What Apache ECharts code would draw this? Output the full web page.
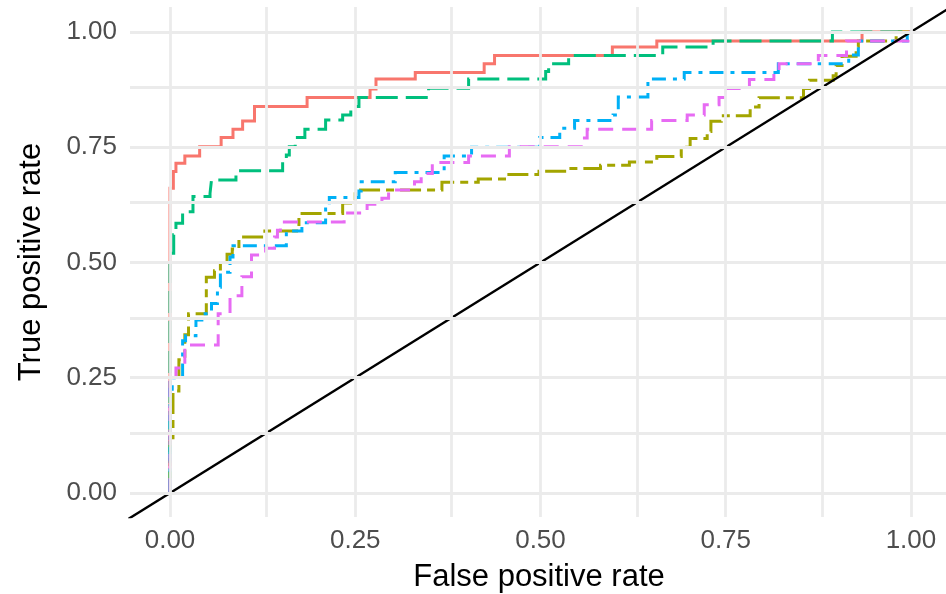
<!DOCTYPE html>
<html>
<head>
<meta charset="utf-8">
<script src="https://cdn.jsdelivr.net/npm/echarts@6/dist/echarts.min.js"></script>
<style>
  html, body { margin: 0; padding: 0; background: #fff; }
  #chart { width: 946px; height: 594px; }
</style>
</head>
<body>
<div id="chart"></div>
<script>
// ---- Data: [false positive rate, true positive rate]
const redRoc = [[0,0],[0,0.661],[0.0045,0.661],[0.0045,0.697],[0.008,0.697],[0.008,0.715],[0.020,0.715],[0.020,0.731],[0.040,0.731],[0.040,0.751],[0.069,0.751],[0.069,0.771],[0.085,0.771],[0.085,0.789],[0.098,0.789],[0.098,0.807],[0.114,0.807],[0.114,0.838],[0.185,0.838],[0.185,0.858],[0.270,0.858],[0.270,0.876],[0.278,0.876],[0.278,0.898],[0.331,0.898],[0.331,0.912],[0.424,0.912],[0.424,0.931],[0.438,0.931],[0.438,0.949],[0.597,0.949],[0.597,0.967],[0.657,0.967],[0.657,0.980],[0.934,0.980],[0.934,1],[1,1]];
const oliveRoc = [[0,0],[0,0.12],[0.004,0.12],[0.004,0.221],[0.012,0.221],[0.012,0.289],[0.020,0.289],[0.020,0.343],[0.025,0.343],[0.025,0.389],[0.049,0.389],[0.049,0.468],[0.060,0.468],[0.060,0.482],[0.068,0.482],[0.068,0.500],[0.077,0.500],[0.077,0.518],[0.084,0.518],[0.084,0.529],[0.093,0.529],[0.093,0.555],[0.128,0.555],[0.128,0.568],[0.174,0.568],[0.174,0.606],[0.233,0.606],[0.233,0.629],[0.250,0.629],[0.250,0.657],[0.367,0.657],[0.367,0.674],[0.416,0.674],[0.416,0.681],[0.455,0.681],[0.455,0.691],[0.498,0.691],[0.498,0.698],[0.536,0.698],[0.536,0.704],[0.581,0.704],[0.581,0.711],[0.620,0.711],[0.620,0.718],[0.657,0.718],[0.657,0.730],[0.690,0.730],[0.690,0.750],[0.702,0.750],[0.702,0.769],[0.725,0.769],[0.725,0.784],[0.730,0.784],[0.730,0.806],[0.744,0.806],[0.744,0.818],[0.783,0.818],[0.783,0.837],[0.795,0.837],[0.795,0.857],[0.855,0.857],[0.855,0.877],[0.863,0.877],[0.863,0.895],[0.895,0.895],[0.895,0.905],[0.899,0.905],[0.899,0.927],[0.907,0.927],[0.907,0.947],[0.926,0.947],[0.926,0.968],[0.929,0.968],[0.929,0.980],[0.980,0.980],[0.980,1],[1,1]];
const greenRoc = [[0,0],[0,0.52],[0.005,0.52],[0.005,0.56],[0.008,0.56],[0.008,0.585],[0.017,0.585],[0.017,0.61],[0.031,0.61],[0.031,0.643],[0.054,0.643],[0.054,0.65],[0.056,0.65],[0.056,0.679],[0.089,0.679],[0.089,0.699],[0.152,0.699],[0.152,0.722],[0.157,0.722],[0.157,0.733],[0.161,0.733],[0.161,0.751],[0.169,0.751],[0.169,0.771],[0.182,0.771],[0.182,0.789],[0.210,0.789],[0.210,0.809],[0.233,0.809],[0.233,0.820],[0.244,0.820],[0.244,0.838],[0.255,0.838],[0.255,0.858],[0.349,0.858],[0.349,0.878],[0.403,0.878],[0.403,0.898],[0.507,0.898],[0.507,0.914],[0.511,0.914],[0.511,0.931],[0.538,0.931],[0.538,0.949],[0.665,0.949],[0.665,0.967],[0.733,0.967],[0.733,0.980],[0.894,0.980],[0.894,1],[1,1]];
const blueRoc = [[0,0],[0,0.225],[0.003,0.225],[0.003,0.25],[0.017,0.25],[0.017,0.33],[0.021,0.33],[0.021,0.341],[0.035,0.341],[0.035,0.375],[0.043,0.375],[0.043,0.389],[0.056,0.389],[0.056,0.411],[0.064,0.411],[0.064,0.446],[0.068,0.446],[0.068,0.479],[0.081,0.479],[0.081,0.512],[0.085,0.512],[0.085,0.536],[0.157,0.536],[0.157,0.568],[0.178,0.568],[0.178,0.586],[0.210,0.586],[0.210,0.626],[0.215,0.626],[0.215,0.641],[0.255,0.641],[0.255,0.655],[0.258,0.655],[0.258,0.675],[0.304,0.675],[0.304,0.695],[0.370,0.695],[0.370,0.731],[0.407,0.731],[0.407,0.750],[0.499,0.750],[0.499,0.771],[0.526,0.771],[0.526,0.791],[0.546,0.791],[0.546,0.808],[0.598,0.808],[0.598,0.820],[0.605,0.820],[0.605,0.859],[0.645,0.859],[0.645,0.898],[0.694,0.898],[0.694,0.912],[0.821,0.912],[0.821,0.931],[0.916,0.931],[0.916,0.950],[0.929,0.950],[0.929,0.980],[0.995,0.980],[0.995,1],[1,1]];
const pinkRoc = [[0,0],[0,0.24],[0.008,0.24],[0.008,0.271],[0.020,0.271],[0.020,0.321],[0.065,0.321],[0.065,0.389],[0.081,0.389],[0.081,0.428],[0.097,0.428],[0.097,0.469],[0.110,0.469],[0.110,0.516],[0.129,0.516],[0.129,0.531],[0.141,0.531],[0.141,0.555],[0.145,0.555],[0.145,0.570],[0.149,0.570],[0.149,0.588],[0.235,0.588],[0.235,0.607],[0.266,0.607],[0.266,0.626],[0.286,0.626],[0.286,0.639],[0.295,0.639],[0.295,0.657],[0.330,0.657],[0.330,0.675],[0.339,0.675],[0.339,0.693],[0.354,0.693],[0.354,0.717],[0.403,0.717],[0.403,0.731],[0.458,0.731],[0.458,0.751],[0.557,0.751],[0.557,0.770],[0.563,0.770],[0.563,0.789],[0.650,0.789],[0.650,0.808],[0.698,0.808],[0.698,0.820],[0.721,0.820],[0.721,0.842],[0.741,0.842],[0.741,0.858],[0.748,0.858],[0.748,0.877],[0.782,0.877],[0.782,0.897],[0.815,0.897],[0.815,0.914],[0.822,0.914],[0.822,0.931],[0.875,0.931],[0.875,0.949],[0.913,0.949],[0.913,0.980],[0.996,0.980],[0.996,1],[1,1]];
// reference line y = x (endpoints beyond the panel, clipped)
const diagonal = [[-0.1,-0.1],[1.1,1.1]];
// axis breaks and labels
const gridBreaks = [0, 0.125, 0.25, 0.375, 0.5, 0.625, 0.75, 0.875, 1];
const labelBreaks = [0, 0.25, 0.5, 0.75, 1];
const xTitle = 'False positive rate';
const yTitle = 'True positive rate';

const FONT = '"Liberation Sans", Arial, sans-serif';
const GRID_COLOR = '#EBEBEB';

function gridMarkLines() {
  const d = [];
  gridBreaks.forEach(v => { d.push({ xAxis: v }); d.push({ yAxis: v }); });
  return {
    silent: true, symbol: ['none', 'none'], animation: false,
    label: { show: false },
    lineStyle: { color: GRID_COLOR, width: 2.8, type: 'solid' },
    emphasis: { disabled: true },
    data: d
  };
}

function curve(name, data, color, dash) {
  return {
    name, type: 'line', data,
    showSymbol: false, symbol: 'none', z: 3, silent: true, clip: true,
    lineStyle: { color, width: 3, type: dash, cap: 'butt', join: 'miter' }
  };
}

const chart = echarts.init(document.getElementById('chart'), null, { renderer: 'canvas' });
chart.setOption({
  animation: false,
  backgroundColor: '#ffffff',
  grid: { left: 130, top: 7, width: 818, height: 510, containLabel: false, outerBoundsMode: 'none' },
  xAxis: {
    type: 'value', min: -0.054, max: 1.050,
    axisLine: { show: false }, axisTick: { show: false }, splitLine: { show: false },
    axisLabel: { customValues: labelBreaks, formatter: v => v.toFixed(2), color: '#4D4D4D',
                 fontSize: 26, fontFamily: FONT, margin: 11 },
    name: xTitle, nameLocation: 'middle', nameGap: 45,
    nameTextStyle: { color: '#000', fontSize: 31, fontFamily: FONT }
  },
  yAxis: {
    type: 'value', min: -0.052, max: 1.054,
    axisLine: { show: false }, axisTick: { show: false }, splitLine: { show: false },
    axisLabel: { customValues: labelBreaks, formatter: v => v.toFixed(2), color: '#4D4D4D',
                 fontSize: 26, fontFamily: FONT, margin: 13 },
    name: yTitle, nameLocation: 'middle', nameGap: 83, nameRotate: 90,
    nameTextStyle: { color: '#000', fontSize: 31, fontFamily: FONT }
  },
  series: [
    { type: 'line', data: [], z: 1, silent: true, markLine: gridMarkLines() },
    curve('red', redRoc, '#F8766D', 'solid'),
    curve('olive', oliveRoc, '#A3A500', [21, 6, 8, 6]),
    curve('green', greenRoc, '#00BF7D', [22, 8]),
    curve('blue', blueRoc, '#00B0F6', [14, 7, 4, 7]),
    curve('pink', pinkRoc, '#E76BF3', [15, 9]),
    { type: 'line', data: diagonal, showSymbol: false, symbol: 'none',
      z: 4, silent: true, clip: true, lineStyle: { color: '#000', width: 2.4 } }
  ]
});
</script>
</body>
</html>
